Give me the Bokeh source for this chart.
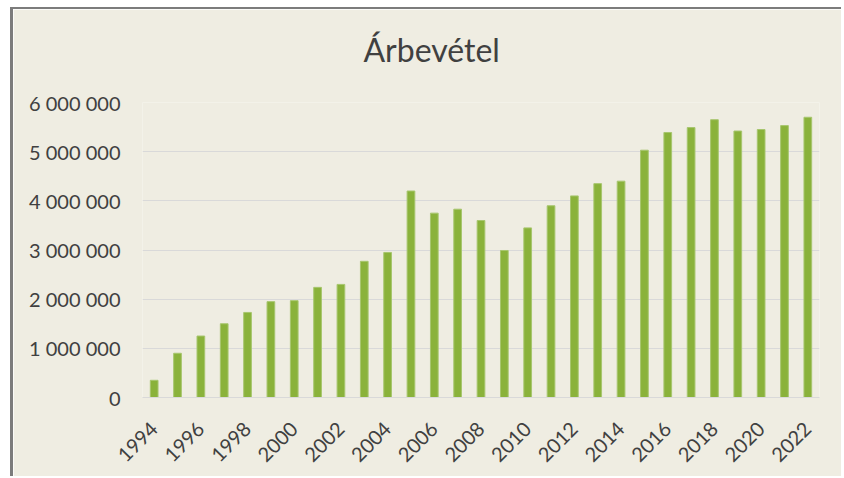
import math
from bokeh.plotting import figure
from bokeh.models import FactorRange, Range1d, FixedTicker, Title, CustomJSTickFormatter
from bokeh.embed import file_html
from bokeh.resources import INLINE

# ---- data ----
years = ["1994", "1995", "1996", "1997", "1998", "1999", "2000", "2001", "2002", "2003",
         "2004", "2005", "2006", "2007", "2008", "2009", "2010", "2011", "2012", "2013",
         "2014", "2015", "2016", "2017", "2018", "2019", "2020", "2021", "2022"]
revenue = [350000, 900000, 1250000, 1500000, 1730000, 1950000, 1970000, 2240000, 2300000, 2770000,
           2950000, 4200000, 3750000, 3830000, 3600000, 2990000, 3450000, 3900000, 4100000, 4350000,
           4400000, 5030000, 5390000, 5490000, 5650000, 5420000, 5450000, 5530000, 5700000]
x_tick_labels = ["1994", "1996", "1998", "2000", "2002", "2004", "2006", "2008", "2010",
                 "2012", "2014", "2016", "2018", "2020", "2022"]
y_ticks = [0, 1000000, 2000000, 3000000, 4000000, 5000000, 6000000]
y_tick_labels = ["0", "1 000 000", "2 000 000", "3 000 000", "4 000 000", "5 000 000", "6 000 000"]
title_text = "Árbevétel"

BG = "#EFEDE2"
TXT = "#404040"
GRID = "#D9D9D9"
FONT = "Lato"

p = figure(width=831, height=469, output_backend="svg", toolbar_location=None,
           x_range=FactorRange(factors=years, range_padding=0),
           y_range=Range1d(0, 6000000),
           min_border_left=129, min_border_right=25, min_border_top=93, min_border_bottom=81)
p.styles = {"margin-left": "10px", "margin-top": "7px",
            "border-left": "3px solid #7C7C7C", "border-top": "2px solid #7C7C7C"}
p.background_fill_color = BG
p.border_fill_color = BG
p.outline_line_color = None

p.vbar(x=years, top=revenue, width=0.33, fill_color="#8AB23B", line_color="#A7C66E", line_width=1)

# title: spacer nearest the frame, then the visible title
p.add_layout(Title(text=" ", text_font_size="10px", standoff=20), "above")
p.add_layout(Title(text=title_text, align="left", offset=221, vertical_align="middle", standoff=0,
                   text_font=FONT, text_font_size="32px", text_font_style="normal",
                   text_color=TXT), "above")

# y axis
p.yaxis.ticker = FixedTicker(ticks=y_ticks)
p.yaxis.major_label_overrides = {t: l for t, l in zip(y_ticks, y_tick_labels)}
p.yaxis.axis_line_color = None
p.yaxis.major_tick_line_color = None
p.yaxis.minor_tick_line_color = None
p.yaxis.major_label_standoff = 16
p.yaxis.major_label_text_font = FONT
p.yaxis.major_label_text_font_size = "20px"
p.yaxis.major_label_text_color = TXT

# x axis
p.xaxis.formatter = CustomJSTickFormatter(args=dict(shown=x_tick_labels),
                                          code="return shown.includes(tick) ? tick : '';")
p.xaxis.major_label_orientation = math.pi / 4
p.xaxis.axis_line_color = GRID
p.xaxis.axis_line_width = 1
p.xaxis.major_tick_line_color = None
p.xaxis.minor_tick_line_color = None
p.xaxis.major_label_standoff = 22
p.xaxis.major_label_text_font = FONT
p.xaxis.major_label_text_font_size = "20px"
p.xaxis.major_label_text_color = TXT

p.xgrid.grid_line_color = None
p.ygrid.grid_line_color = GRID
p.ygrid.grid_line_width = 1

open("out.html", "w").write(file_html(p, INLINE))
